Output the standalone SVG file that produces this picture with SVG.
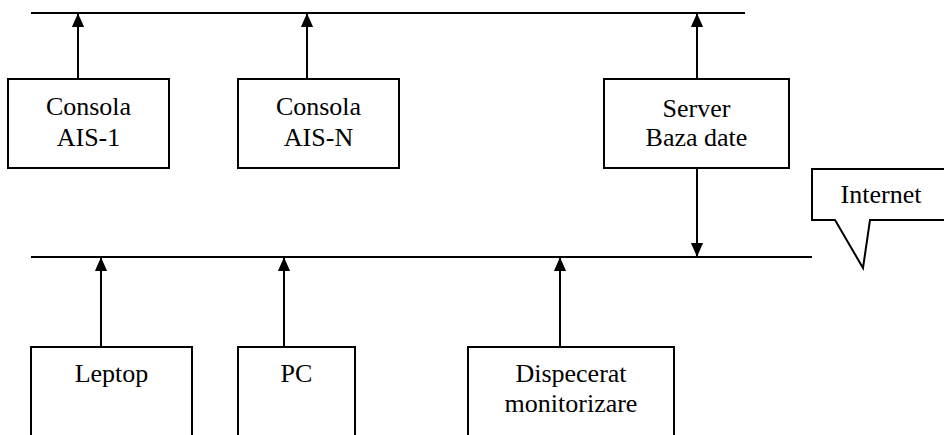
<svg xmlns="http://www.w3.org/2000/svg" width="944" height="435" viewBox="0 0 944 435">
<defs>
<marker id="ah" markerWidth="14" markerHeight="16" refX="15" refY="7" orient="auto" markerUnits="userSpaceOnUse" viewBox="0 0 16 14">
<path d="M0,0 L16,7 L0,14 Z" fill="#000"/>
</marker>
</defs>
<style>
.box{fill:#fff;stroke:#000;stroke-width:2}
.bus{stroke:#000;stroke-width:2;fill:none}
.con{stroke:#000;stroke-width:2;fill:none}
text{font-family:"Liberation Serif","Times New Roman",serif;font-size:26px;fill:#000;text-anchor:middle}
</style>
<rect width="944" height="435" fill="#fff"/>
<g id="buses">
<line class="bus" x1="31" y1="13" x2="745" y2="13"/>
<line class="bus" x1="31" y1="257" x2="812" y2="257"/>
</g>
<g id="connectors">
<line class="con" x1="78" y1="79" x2="78" y2="14" marker-end="url(#ah)"/>
<line class="con" x1="307" y1="79" x2="307" y2="14" marker-end="url(#ah)"/>
<line class="con" x1="697" y1="79" x2="697" y2="14" marker-end="url(#ah)"/>
<line class="con" x1="697" y1="168" x2="697" y2="256" marker-end="url(#ah)"/>
<line class="con" x1="101" y1="347" x2="101" y2="258" marker-end="url(#ah)"/>
<line class="con" x1="284" y1="347" x2="284" y2="258" marker-end="url(#ah)"/>
<line class="con" x1="560" y1="347" x2="560" y2="258" marker-end="url(#ah)"/>
</g>
<g id="consola-ais-1">
<rect class="box" x="8" y="79" width="161" height="89"/>
<text x="88.5" y="115">Consola</text>
<text x="88.5" y="146">AIS-1</text>
</g>
<g id="consola-ais-n">
<rect class="box" x="238" y="79" width="161" height="89"/>
<text x="318.5" y="115">Consola</text>
<text x="318.5" y="146">AIS-N</text>
</g>
<g id="server">
<rect class="box" x="604" y="79" width="185" height="89"/>
<text x="696.5" y="117">Server</text>
<text x="696.5" y="146">Baza date</text>
</g>
<g id="internet">
<path class="box" d="M812,169 L950,169 L950,220 L870,220 L863,268 L835,220 L812,220 Z"/>
<text x="881" y="203">Internet</text>
</g>
<g id="leptop">
<rect class="box" x="31" y="347" width="161" height="100"/>
<text x="111.5" y="382">Leptop</text>
</g>
<g id="pc">
<rect class="box" x="238" y="347" width="117" height="100"/>
<text x="296.5" y="382">PC</text>
</g>
<g id="dispecerat">
<rect class="box" x="468" y="347" width="206" height="100"/>
<text x="571" y="382">Dispecerat</text>
<text x="571" y="412">monitorizare</text>
</g>
</svg>
